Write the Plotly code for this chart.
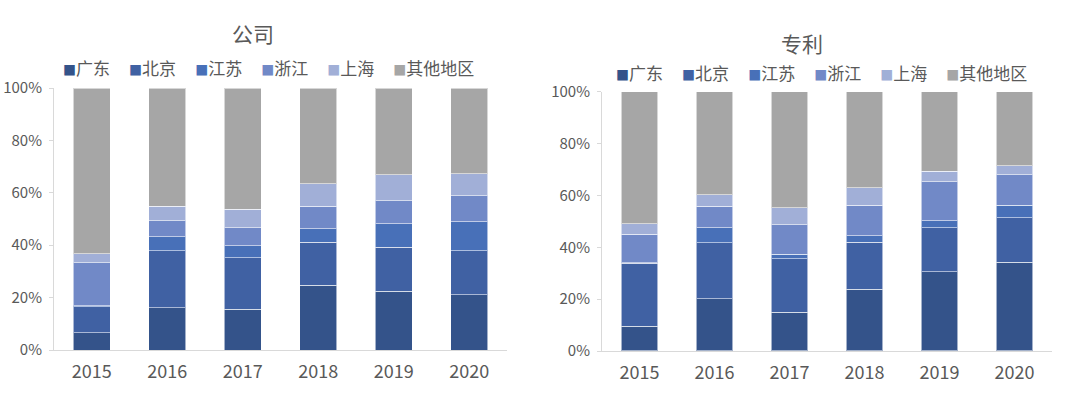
import plotly.graph_objects as go

years = ["2015", "2016", "2017", "2018", "2019", "2020"]
series_names = ["广东", "北京", "江苏", "浙江", "上海", "其他地区"]
colors = ["#34538a", "#4061a3", "#4870b8", "#7189c7", "#a1afd7", "#a6a6a6"]

# 公司 (share, %)
co_guangdong = [6.6, 16.1, 15.6, 24.8, 22.5, 21.1]
co_beijing = [9.9, 21.7, 19.6, 16.4, 16.8, 16.7]
co_jiangsu = [0.3, 5.5, 4.6, 5.1, 8.9, 11.1]
co_zhejiang = [16.5, 6.1, 6.9, 8.5, 8.7, 9.9]
co_shanghai = [3.5, 5.4, 7.1, 8.6, 9.9, 8.5]
co_other = [63.2, 45.2, 46.2, 36.6, 33.2, 32.7]

# 专利 (share, %)
pt_guangdong = [9.6, 20.1, 15.0, 23.8, 30.5, 34.3]
pt_beijing = [24.2, 21.6, 20.5, 18.2, 17.1, 17.0]
pt_jiangsu = [0.3, 5.9, 1.9, 2.5, 2.7, 5.0]
pt_zhejiang = [11.0, 8.2, 11.2, 11.8, 15.0, 11.7]
pt_shanghai = [4.0, 4.5, 6.7, 6.6, 4.1, 3.5]
pt_other = [50.9, 39.7, 44.7, 37.1, 30.6, 28.5]

company = [co_guangdong, co_beijing, co_jiangsu, co_zhejiang, co_shanghai, co_other]
patent = [pt_guangdong, pt_beijing, pt_jiangsu, pt_zhejiang, pt_shanghai, pt_other]

W, H = 1080, 396
FONT = "Noto Sans CJK SC, DejaVu Sans, sans-serif"
TXT = "#595959"

fig = go.Figure()
for i, name in enumerate(series_names):
    fig.add_trace(go.Bar(
        x=years, y=[v / 100 for v in company[i]], name=name,
        marker=dict(color=colors[i], line=dict(color="rgba(255,255,255,0.55)", width=1)),
        width=0.49, xaxis="x", yaxis="y", showlegend=False,
    ))
for i, name in enumerate(series_names):
    fig.add_trace(go.Bar(
        x=years, y=[v / 100 for v in patent[i]], name=name,
        marker=dict(color=colors[i], line=dict(color="rgba(255,255,255,0.55)", width=1)),
        width=0.49, xaxis="x2", yaxis="y2", showlegend=False,
    ))

def px_x(p):
    return p / W

def px_y(p):
    return 1 - p / H

axis_common = dict(
    showgrid=False, zeroline=False, showline=True, linecolor="#d9d9d9", linewidth=1,
    fixedrange=True, automargin=False,
)

def legend_text(gap):
    sep = "&nbsp;" * gap
    return sep.join(
        f'<span style="color:{c};font-size:13px">■</span>{n}'
        for n, c in zip(series_names, colors)
    )

xt = dict(ticks="", ticklabelstandoff=5, tickfont=dict(family=FONT, size=18, color=TXT))
yt = dict(range=[0, 1], tickvals=[0, 0.2, 0.4, 0.6, 0.8, 1.0], tickformat=".0%",
          ticks="outside", ticklen=4, tickcolor="#d9d9d9", ticklabelstandoff=4,
          tickfont=dict(family=FONT, size=15, color=TXT))

fig.update_layout(
    width=W, height=H, barmode="stack",
    margin=dict(l=0, r=0, t=0, b=0, autoexpand=False),
    paper_bgcolor="white", plot_bgcolor="white",
    font=dict(family=FONT, color=TXT),
    showlegend=False,
    xaxis=dict(domain=[px_x(54), px_x(507)], anchor="y", **xt, **axis_common),
    yaxis=dict(domain=[px_y(350), px_y(88)], anchor="x", **yt, **axis_common),
    xaxis2=dict(domain=[px_x(602), px_x(1052)], anchor="y2", **xt, **axis_common),
    yaxis2=dict(domain=[px_y(351), px_y(91.7)], anchor="x2", **yt, **axis_common),
    annotations=[
        dict(text="公司", x=px_x(253), y=px_y(33), xref="paper", yref="paper",
             showarrow=False, font=dict(family=FONT, size=21, color=TXT),
             xanchor="center", yanchor="middle"),
        dict(text="专利", x=px_x(802), y=px_y(43), xref="paper", yref="paper",
             showarrow=False, font=dict(family=FONT, size=21, color=TXT),
             xanchor="center", yanchor="middle"),
        dict(text=legend_text(5), x=px_x(268), y=px_y(67), xref="paper", yref="paper",
             showarrow=False, font=dict(family=FONT, size=17, color=TXT),
             xanchor="center", yanchor="middle"),
        dict(text=legend_text(5), x=px_x(821), y=px_y(72), xref="paper", yref="paper",
             showarrow=False, font=dict(family=FONT, size=17, color=TXT),
             xanchor="center", yanchor="middle"),
    ],
)

fig.write_html("out.html", config={"displayModeBar": False},
               post_script="document.body.style.margin='0';")
